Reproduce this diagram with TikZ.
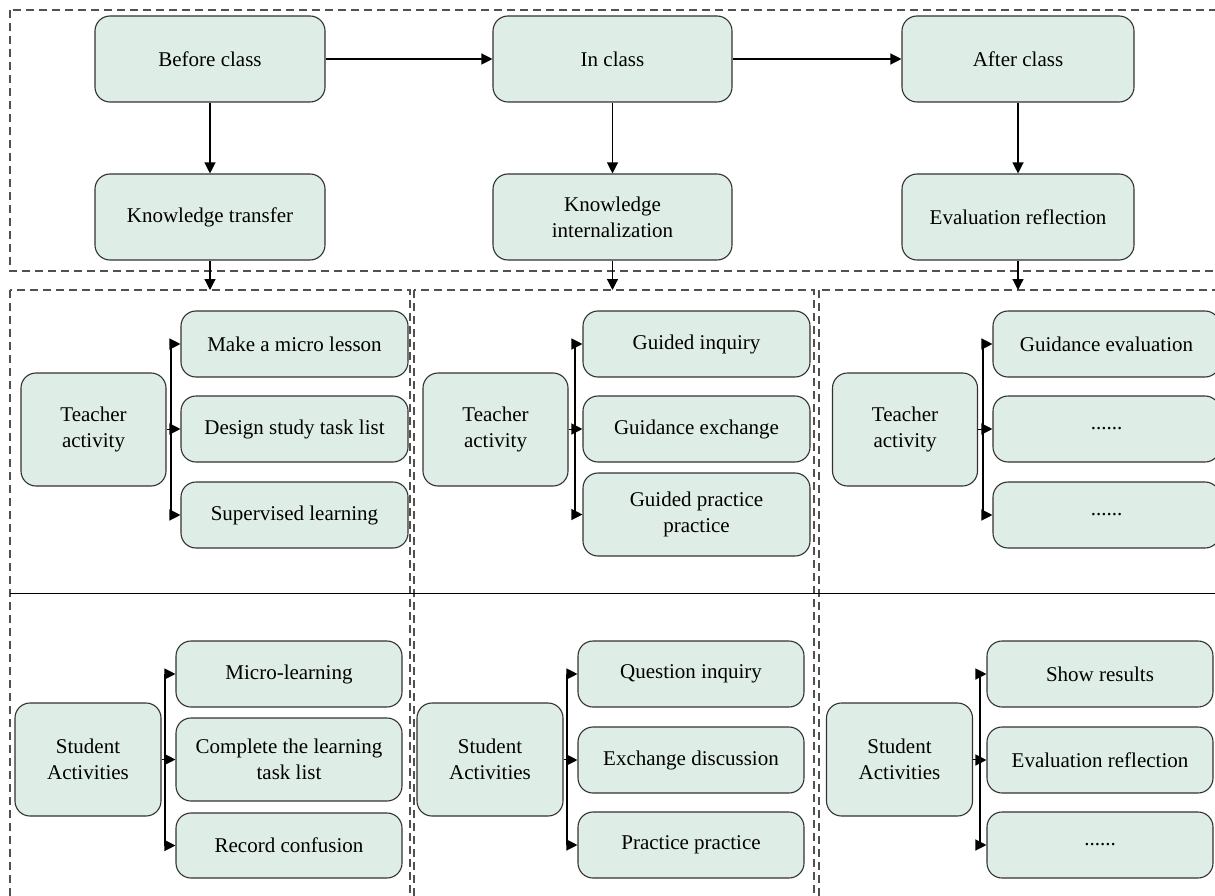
\documentclass[tikz,border=0pt]{standalone}
\usepackage{fontspec}
\setmainfont{Liberation Serif}
\usetikzlibrary{arrows.meta}
\definecolor{boxfill}{RGB}{222,238,230}
\definecolor{boxline}{RGB}{50,50,50}
\definecolor{dashline}{RGB}{80,80,80}
\tikzset{
  stagebox/.style={draw=boxline, line width=1.1pt, fill=boxfill, rounded corners=15pt,
    inner sep=0pt, align=center, text=black,
    font=\fontsize{21pt}{26pt}\selectfont},
  arr/.style={line width=1.2pt, -{Triangle[length=11pt,width=11pt]}},
  link/.style={line width=1.2pt},
  frame/.style={draw=dashline, line width=1.1pt, dash pattern=on 8pt off 5pt},
}
\begin{document}
\begin{tikzpicture}[x=1pt,y=-1pt]
\useasboundingbox (0,0) rectangle (1215,896);
\clip (0,0) rectangle (1215,896);

% dashed frames
\draw[frame] (10,10) rectangle (1230,271);
\draw[frame] (10,290) rectangle (410,905);
\draw[frame] (414,290) rectangle (814,905);
\draw[frame] (819,290) rectangle (1230,905);
\draw[line width=1pt, black] (10,593) -- (1230,593);

% stages
\node[stagebox, minimum width=230pt, minimum height=86pt] (bc) at (210,59) {Before class};
\node[stagebox, minimum width=239pt, minimum height=86pt] (ic) at (612.5,59) {In class};
\node[stagebox, minimum width=232pt, minimum height=86pt] (ac) at (1018,59) {After class};
\node[stagebox, minimum width=230pt, minimum height=86pt] (kt) at (210,217) {Knowledge transfer};
\node[stagebox, minimum width=239pt, minimum height=86pt] (ki) at (612.5,217) {Knowledge\\internalization};
\node[stagebox, minimum width=232pt, minimum height=86pt] (er) at (1018,217) {Evaluation reflection};

\coordinate (d1) at (210,290);
\coordinate (d2) at (612.5,290);
\coordinate (d3) at (1018,290);

\draw[arr] (bc.east) -- (ic.west);
\draw[arr] (ic.east) -- (ac.west);
\draw[arr] (bc) -- (kt);
\draw[arr] (ic) -- (ki);
\draw[arr] (ac) -- (er);
\draw[arr] (kt.south) -- (d1);
\draw[arr] (ki.south) -- (d2);
\draw[arr] (er.south) -- (d3);

% teacher activities
\tikzset{lead/.style={stagebox, minimum width=145pt, minimum height=113pt},
         item/.style={stagebox, minimum width=227pt, minimum height=66pt}}
\node[lead] (ta1) at (93.5,429.5) {Teacher\\activity};
\node[item] (t11) at (294.5,344) {Make a micro lesson};
\node[item] (t12) at (294.5,429) {Design study task list};
\node[item] (t13) at (294.5,515) {Supervised learning};

\node[lead] (ta2) at (495.5,429.5) {Teacher\\activity};
\node[item] (t21) at (696.5,344) {Guided inquiry};
\node[item] (t22) at (696.5,429) {Guidance exchange};
\node[item, minimum height=83pt] (t23) at (696.5,514.5) {Guided practice\\practice};

\node[lead] (ta3) at (905,429.5) {Teacher\\activity};
\node[item] (t31) at (1106.5,344) {Guidance evaluation};
\node[item] (t32) at (1106.5,429) {......};
\node[item] (t33) at (1106.5,515) {......};

% student activities
\tikzset{slead/.style={stagebox, minimum width=146pt, minimum height=113pt},
         sitem/.style={stagebox, minimum width=226pt, minimum height=66pt}}
\node[slead] (sa1) at (88,759.5) {Student\\Activities};
\node[sitem] (s11) at (289,674) {Micro-learning};
\node[sitem, minimum height=83pt] (s12) at (289,759.5) {Complete the learning\\task list};
\node[sitem, minimum height=65pt] (s13) at (289,845.5) {Record confusion};

\node[slead] (sa2) at (490,759.5) {Student\\Activities};
\node[sitem] (s21) at (691,674) {Question inquiry};
\node[sitem] (s22) at (691,760) {Exchange discussion};
\node[sitem] (s23) at (691,845) {Practice practice};

\node[slead] (sa3) at (899.5,759.5) {Student\\Activities};
\node[sitem] (s31) at (1100,674) {Show results};
\node[sitem] (s32) at (1100,760) {Evaluation reflection};
\node[sitem] (s33) at (1100,845) {......};

% branch connectors
\coordinate (bt1) at (171,0);
\coordinate (bt2) at (575,0);
\coordinate (bt3) at (983,0);
\coordinate (bs1) at (165,0);
\coordinate (bs2) at (567,0);
\coordinate (bs3) at (980,0);

\foreach \lead/\a/\b/\c/\br in {ta1/t11/t12/t13/bt1, ta2/t21/t22/t23/bt2, ta3/t31/t32/t33/bt3,
                                sa1/s11/s12/s13/bs1, sa2/s21/s22/s23/bs2, sa3/s31/s32/s33/bs3}{
  \draw[link] (\lead.east) -- (\lead.east -| \br);
  \draw[link] (\br |- \a.west) -- (\br |- \c.west);
  \draw[arr] (\br |- \a.west) -- (\a.west);
  \draw[arr] (\br |- \b.west) -- (\b.west);
  \draw[arr] (\br |- \c.west) -- (\c.west);
}
\end{tikzpicture}
\end{document}
